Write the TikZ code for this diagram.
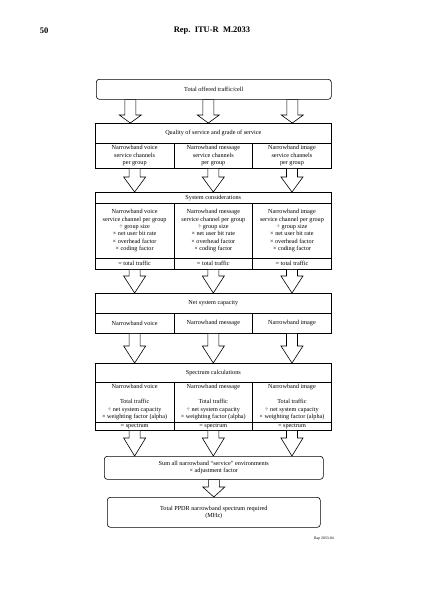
\documentclass[tikz,border=0pt]{standalone}
\usepackage{fontspec}
\setmainfont{Liberation Serif}
\usepackage{tikz}
\usetikzlibrary{calc}

\tikzset{
  cell/.style={draw, line width=0.6pt, inner sep=0pt, anchor=north west, align=center,
    font=\fontsize{6.2}{7.4}\selectfont},
  roundbox/.style={cell, rounded corners=3pt},
  blockarrow/.style={draw, line width=0.6pt, fill=white, line join=miter},
  headtext/.style={font=\fontsize{8.5}{10}\selectfont\bfseries, inner sep=0pt},
}

% open block arrow from #1 down to the level of #2, head length #3
\newcommand{\fatarrow}[3]{%
  \draw[blockarrow] let \p1=(#1), \p2=(#2) in
    (\x1-5.5pt,\y1) -- (\x1+5.5pt,\y1) -- (\x1+5.5pt,\y2+#3pt) -- (\x1+11pt,\y2+#3pt)
    -- (\x1,\y2) -- (\x1-11pt,\y2+#3pt) -- (\x1-5.5pt,\y2+#3pt) -- cycle;}

\begin{document}
\begin{tikzpicture}[x=1pt, y=-1pt]
  \useasboundingbox (0,0) rectangle (423,598);

  \node[headtext] (pageno) at (44,31) {50};
  \node[headtext] (report) at (212,31) {Rep.\ \ ITU-R\ \ M.2033};

  \node[roundbox, minimum width=235pt, minimum height=20pt] (top) at (96,79) {Total offered traffic/cell};

  % quality of service
  \node[cell, minimum width=236pt, minimum height=20pt] (qos) at (95,123) {Quality of service and grade of service};
  \node[cell, minimum width=78.67pt, minimum height=25pt] (qosvoice) at (95,143) {Narrowband voice\\service channels\\per group};
  \node[cell, minimum width=78.67pt, minimum height=25pt] (qosmsg) at (173.67,143) {Narrowband message\\service channels\\per group};
  \node[cell, minimum width=78.67pt, minimum height=25pt] (qosimg) at (252.33,143) {Narrowband image\\service channels\\per group};

  % system considerations
  \node[cell, minimum width=236pt, minimum height=11pt] (sys) at (95,192) {System considerations};
  \node[cell, minimum width=78.67pt, minimum height=55pt] (sysvoice) at (95,203) {Narrowband voice\\service channel per group\\÷ group size\\× net user bit rate\\× overhead factor\\× coding factor};
  \node[cell, minimum width=78.67pt, minimum height=55pt] (sysmsg) at (173.67,203) {Narrowband message\\service channel per group\\÷ group size\\× net user bit rate\\× overhead factor\\× coding factor};
  \node[cell, minimum width=78.67pt, minimum height=55pt] (sysimg) at (252.33,203) {Narrowband image\\service channel per group\\÷ group size\\× net user bit rate\\× overhead factor\\× coding factor};
  \node[cell, minimum width=78.67pt, minimum height=11pt] (systotvoice) at (95,258) {= total traffic};
  \node[cell, minimum width=78.67pt, minimum height=11pt] (systotmsg) at (173.67,258) {= total traffic};
  \node[cell, minimum width=78.67pt, minimum height=11pt] (systotimg) at (252.33,258) {= total traffic};

  % net system capacity
  \node[cell, minimum width=236pt, minimum height=20pt] (net) at (95,293) {Net system capacity};
  \node[cell, minimum width=78.67pt, minimum height=20pt] (netvoice) at (95,313) {Narrowband voice};
  \node[cell, minimum width=78.67pt, minimum height=20pt] (netmsg) at (173.67,313) {Narrowband message};
  \node[cell, minimum width=78.67pt, minimum height=20pt] (netimg) at (252.33,313) {Narrowband image};

  % spectrum calculations
  \node[cell, minimum width=236pt, minimum height=19pt] (spec) at (95,363) {Spectrum calculations};
  \node[cell, minimum width=78.67pt, minimum height=40pt] (specvoice) at (95,382) {Narrowband voice\\[7.4pt]Total traffic\\÷ net system capacity\\× weighting factor (alpha)};
  \node[cell, minimum width=78.67pt, minimum height=40pt] (specmsg) at (173.67,382) {Narrowband message\\[7.4pt]Total traffic\\÷ net system capacity\\× weighting factor (alpha)};
  \node[cell, minimum width=78.67pt, minimum height=40pt] (specimg) at (252.33,382) {Narrowband image\\[7.4pt]Total traffic\\÷ net system capacity\\× weighting factor (alpha)};
  \node[cell, minimum width=78.67pt, minimum height=8pt] (spectotvoice) at (95,422) {= spectrum};
  \node[cell, minimum width=78.67pt, minimum height=8pt] (spectotmsg) at (173.67,422) {= spectrum};
  \node[cell, minimum width=78.67pt, minimum height=8pt] (spectotimg) at (252.33,422) {= spectrum};

  \node[roundbox, minimum width=219pt, minimum height=23pt] (sum) at (104,456) {Sum all narrowband “service” environments\\× adjustment factor};
  \node[roundbox, minimum width=213pt, minimum height=30pt] (final) at (107,497) {Total PPDR narrowband spectrum required\\(MHz)};

  \node[font=\fontsize{3.8}{4}\selectfont, inner sep=0pt, anchor=east] (ref) at (334,539) {Rap 2033-04};

  % arrows
  \path (top.south) ++(-83.5,0) coordinate (t1) ++(78,0) coordinate (t2) ++(84,0) coordinate (t3);
  \foreach \t in {t1,t2,t3} {\fatarrow{\t}{qos.north}{8}}
  \foreach \c in {voice,msg,img} {
    \fatarrow{qos\c.south}{sys.north}{15}
    \fatarrow{systot\c.south}{net.north}{17}
    \fatarrow{net\c.south}{spec.north}{17}
    \fatarrow{spectot\c.south}{sum.north}{18}
  }
  \fatarrow{sum.south}{final.north}{10}
\end{tikzpicture}
\end{document}
